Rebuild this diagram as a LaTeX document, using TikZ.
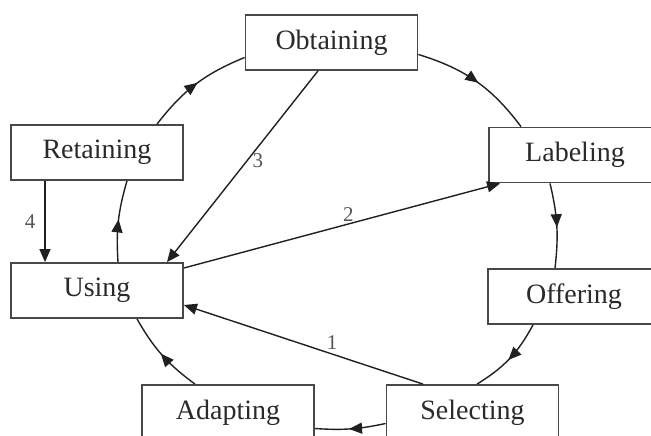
\documentclass[tikz,border=0pt]{standalone}
\usepackage{fontspec}
\setmainfont{Liberation Serif}
\usetikzlibrary{arrows.meta,decorations.markings}
\definecolor{ink}{HTML}{202020}
\definecolor{boxline}{HTML}{484848}
\definecolor{txt}{HTML}{2A2A2A}
\tikzset{
  stage/.style={draw=boxline, line width=1.8pt, fill=white, minimum width=172pt,
    minimum height=55pt, inner sep=0pt, text=txt,
    font=\fontsize{28}{30}\selectfont},
  flow/.style={draw=ink, line width=1.4pt},
  cycle/.style={flow, postaction={decorate}, decoration={markings,
    mark=at position 0.52 with {\arrow[ink]{Triangle[length=13pt,width=11pt]}}}},
  link/.style={flow, -{Triangle[length=13pt,width=11pt]}},
  num/.style={text=txt!80, font=\fontsize{21}{22}\selectfont, inner sep=0pt}
}
\begin{document}
\begin{tikzpicture}[x=1pt,y=-1pt]
\useasboundingbox (0,0) rectangle (651,436);
\clip (0,0) rectangle (651,436);

% stages of the cycle
\node[stage] (obt) at (331.5,42.5) {Obtaining};
\node[stage] (lab) at (575,155) {Labeling};
\node[stage] (off) at (574,296.5) {Offering};
\node[stage] (sel) at (472.5,412.5) {Selecting};
\node[stage] (ada) at (228,412.5) {Adapting};
\node[stage] (use) at (97,290.5) {Using};
\node[stage] (ret) at (97,152.5) {Retaining};

% outer cycle, bulging outwards
\draw[cycle] ([yshift=-12pt]obt.east) to[bend left=18] ([xshift=-54pt]lab.north);
\draw[cycle] ([xshift=-25pt]lab.south) to[bend left=10] ([xshift=-19pt]off.north);
\draw[cycle] ([xshift=-41pt]off.south) to[bend left=15] ([xshift=4.5pt]sel.north);
\draw[cycle] ([yshift=-11pt]sel.west) to[bend left=8] ([yshift=-16pt]ada.east);
\draw[cycle] ([xshift=-33pt]ada.north) to[bend left=12] ([xshift=40pt]use.south);
\draw[cycle] ([xshift=21pt]use.north) to[bend left=10] ([xshift=30pt]ret.south);
\draw[cycle] ([xshift=60pt]ret.north) to[bend left=15] ([yshift=-15pt]obt.west);

% numbered links
\draw[link] ([xshift=-52pt]ret.south) -- node[num, left=9pt] {4} ([xshift=-52pt]use.north);
\draw[link] ([xshift=-13.5pt]obt.south) -- node[num, pos=0.47, right=5pt] {3} ([xshift=70pt]use.north);
\draw[link] ([yshift=22.5pt]use.east) -- node[num, pos=0.52, above=2pt] {2} ([xshift=12pt]lab.south west);
\draw[link] ([xshift=-49.5pt]sel.north) -- node[num, pos=0.38, above=4pt] {1} ([yshift=-14.5pt]use.east);
\end{tikzpicture}
\end{document}
